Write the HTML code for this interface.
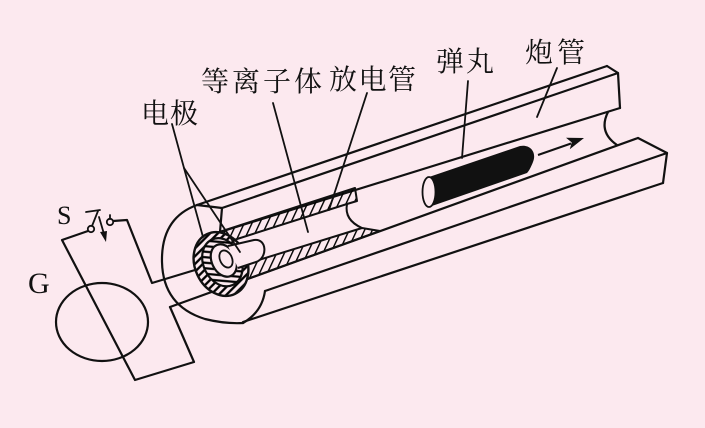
<!DOCTYPE html>
<html><head><meta charset="utf-8"><style>
html,body{margin:0;padding:0;background:#fce9ef;}
svg{display:block;}
.t{font-family:"Liberation Serif","Noto Serif CJK SC","Noto Sans CJK SC",serif;font-size:28px;fill:#111;}
.l{font-family:"Liberation Serif",serif;fill:#111;}
</style></head><body>
<svg width="705" height="428" viewBox="0 0 705 428" xmlns="http://www.w3.org/2000/svg">
<defs>
<pattern id="hb" width="7" height="7" patternUnits="userSpaceOnUse" patternTransform="rotate(25)"><line x1="0" y1="0" x2="0" y2="7" stroke="#000" stroke-width="2.8"/></pattern>
<pattern id="hr" width="5.5" height="5.5" patternUnits="userSpaceOnUse" patternTransform="rotate(-20)"><line x1="0" y1="2.75" x2="5.5" y2="2.75" stroke="#000" stroke-width="2.3"/></pattern>
<pattern id="hr2" width="5.5" height="5.5" patternUnits="userSpaceOnUse" patternTransform="rotate(30)"><line x1="0" y1="2.75" x2="5.5" y2="2.75" stroke="#000" stroke-width="2.2"/></pattern>
</defs>
<rect width="705" height="428" fill="#fce9ef"/>
<g fill="none" stroke="#111" stroke-width="2.2" stroke-linejoin="round" stroke-linecap="round">
<line x1="197" y1="205" x2="607" y2="66"/>
<line x1="222" y1="208" x2="618" y2="73"/>
<polyline points="607,66 618,73 620,108"/>
<line x1="220" y1="232" x2="620" y2="108"/>
<polyline points="197,205 222,208 220,232"/>
<path d="M608,112 Q598,132 617,145"/>
<line x1="170" y1="307" x2="638" y2="138"/>
<polyline points="638,138 667,153 663,183"/>
<line x1="265" y1="291" x2="667" y2="153"/>
<line x1="243" y1="322" x2="663" y2="183"/>
<path d="M243,323 Q262,312 265,291"/>
<path d="M197,205 Q161,218 162,262 Q163,306 205,319 Q225,324 243,323"/>
<ellipse cx="102" cy="322" rx="46" ry="39"/>
<polyline points="88,231 62,240 135,380 194,362 170,307"/>
<polyline points="113,221 127,220 152,283 195,270"/>
</g>
<g fill="#fce9ef" stroke="#111" stroke-width="1.8">
<circle cx="91" cy="229" r="3.2"/>
<circle cx="110" cy="222" r="3.2"/>
</g>
<g stroke="#111" stroke-width="1.8" fill="none" stroke-linecap="round">
<line x1="92" y1="226" x2="98" y2="211"/>
<line x1="86" y1="212" x2="100" y2="210"/>
<line x1="99" y1="217" x2="104" y2="234"/>
<line x1="110" y1="219" x2="110" y2="215"/>
</g>
<polygon points="106,242 100,232 107,231" fill="#111"/>
<polygon points="210,235 355,188 357,201 347,204 215,246" fill="url(#hb)" stroke="#111" stroke-width="2" stroke-linejoin="round"/>
<polygon points="220,272 362,228 380,231 220,289" fill="url(#hb)" stroke="#111" stroke-width="2" stroke-linejoin="round"/>
<path d="M347,204 Q344,220 362,228" fill="none" stroke="#111" stroke-width="2"/>
<g transform="rotate(-25 221 264)">
<ellipse cx="221" cy="264" rx="26" ry="33" fill="#fce9ef" stroke="none"/>
<ellipse cx="221" cy="264" rx="26" ry="33" fill="url(#hr)" stroke="#111" stroke-width="2.4"/>
<ellipse cx="223" cy="263" rx="19" ry="25" fill="#fce9ef" stroke="#111" stroke-width="2.2"/>
<ellipse cx="223" cy="263" rx="19" ry="25" fill="url(#hr2)" stroke="none"/>
<ellipse cx="225" cy="262" rx="12" ry="17" fill="#fce9ef" stroke="#111" stroke-width="2.2"/>
</g>
<path d="M228,246 L254,240 C267,238 268,258 256,262 L238,268" fill="#fce9ef" stroke="#111" stroke-width="2"/>
<ellipse cx="226" cy="259" rx="6" ry="9" transform="rotate(-25 226 259)" fill="#fce9ef" stroke="#111" stroke-width="1.8"/>
<path d="M429,177 L520,146 C530,144 537,152 533,162 C531,167 529,171 527,173 L429,207 A6.5,15 0 0 0 429,177 Z" fill="#111"/>
<ellipse cx="429" cy="192" rx="6.5" ry="15" fill="#fce9ef" stroke="#111" stroke-width="1.8"/>
<line x1="538" y1="155" x2="571" y2="143.5" stroke="#111" stroke-width="2"/>
<polygon points="584,138 566,137.8 571.7,142.4 569.8,149.2" fill="#111"/>
<g stroke="#111" stroke-width="1.8" fill="none" stroke-linecap="round">
<polyline points="172,124 184,168 203,237"/>
<line x1="184" y1="168" x2="240" y2="252"/>
<line x1="273" y1="103" x2="308" y2="232"/>
<line x1="367" y1="93" x2="329" y2="210"/>
<line x1="468" y1="81" x2="462" y2="158"/>
<line x1="557" y1="68" x2="537" y2="117"/>
</g>
<text class="t" x="141" y="123" textLength="57">电极</text>
<text class="t" x="201" y="91" textLength="121">等离子体</text>
<text class="t" x="329" y="89" textLength="87">放电管</text>
<text class="t" x="436" y="71" textLength="58">弹丸</text>
<text class="t" x="525" y="62" textLength="60">炮管</text>
<text class="l" x="57" y="224" font-size="26">S</text>
<text class="l" x="28" y="293" font-size="30">G</text>
</svg>
</body></html>
